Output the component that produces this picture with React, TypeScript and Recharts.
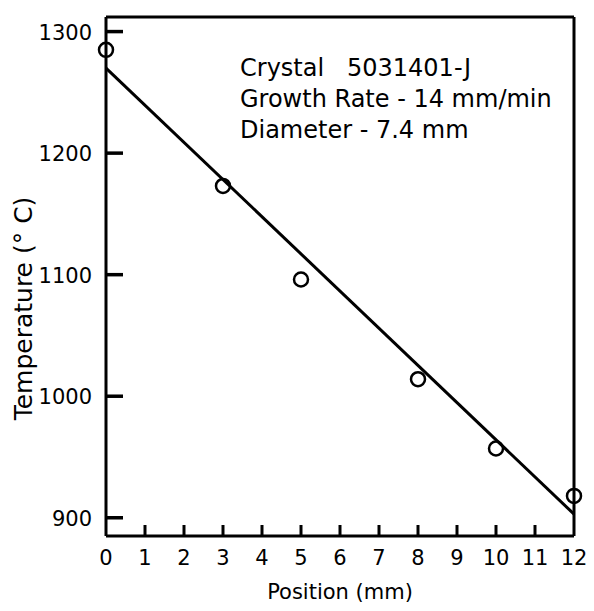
import { ScatterChart, Scatter, XAxis, YAxis } from "recharts";

// measured points (position mm, temperature °C)
const positions = [0, 3, 5, 8, 10, 12];
const temps = [1285, 1173, 1096, 1014, 957, 918];

// straight fit line end points
const fitPositions = [0, 12];
const fitTemps = [1270, 903];

const xTicks = [0, 1, 2, 3, 4, 5, 6, 7, 8, 9, 10, 11, 12];
const yTicks = [900, 1000, 1100, 1200, 1300];
const notes = ["Crystal   5031401-J", "Growth Rate - 14 mm/min", "Diameter - 7.4 mm"];

const points = positions.map((p, i) => ({ pos: p, temp: temps[i] }));
const fit = fitPositions.map((p, i) => ({ pos: p, temp: fitTemps[i] }));

const FONT = "DejaVu Sans";
const INK = "#000";

const BottomTick = ({ x, y, payload }: any) => {
  const edge = payload.value === 0 || payload.value === 12;
  return (
    <g>
      {!edge && <line x1={x} x2={x} y1={y} y2={y - 11} stroke={INK} strokeWidth={3} />}
      <text x={x} y={y + 29} textAnchor="middle" fontSize={21} fontFamily={FONT} fill={INK}>
        {payload.value}
      </text>
    </g>
  );
};

const TopTick = ({ x, y, payload }: any) => {
  if (payload.value === 0 || payload.value === 12) return <g />;
  return <line x1={x} x2={x} y1={y} y2={y + 12} stroke={INK} strokeWidth={3} />;
};

const LeftTick = ({ x, y, payload }: any) => (
  <g>
    <line x1={x} x2={x + 17} y1={y} y2={y} stroke={INK} strokeWidth={3.5} />
    <text x={x - 14} y={y + 8} textAnchor="end" fontSize={21} fontFamily={FONT} fill={INK}>
      {payload.value}
    </text>
  </g>
);

const RightTick = ({ x, y }: any) => (
  <line x1={x} x2={x - 18} y1={y} y2={y} stroke={INK} strokeWidth={3.5} />
);

const Dot = ({ cx, cy }: any) => (
  <circle cx={cx} cy={cy} r={7} fill="none" stroke={INK} strokeWidth={2.5} />
);

const NoDot = () => <g />;

const axisLine = { stroke: INK, strokeWidth: 3 };

export default function App() {
  return (
    <div style={{ position: "absolute", left: 0, top: 0, background: "#fff" }}>
      <ScatterChart width={594} height={611} margin={{ top: 0, right: 0, bottom: 0, left: 0 }}>
        <XAxis
          xAxisId="b"
          type="number"
          dataKey="pos"
          orientation="bottom"
          domain={[0, 12]}
          ticks={xTicks}
          interval={0}
          height={75}
          tickSize={0}
          tickMargin={0}
          tickLine={false}
          axisLine={axisLine}
          tick={<BottomTick />}
          label={{
            value: "Position (mm)",
            position: "insideBottom",
            offset: 12,
            fontSize: 21,
            fontFamily: FONT,
            fill: INK,
          }}
        />
        <XAxis
          xAxisId="t"
          type="number"
          dataKey="pos"
          orientation="top"
          domain={[0, 12]}
          ticks={xTicks}
          interval={0}
          height={17}
          tickSize={0}
          tickMargin={0}
          tickLine={false}
          axisLine={axisLine}
          tick={<TopTick />}
        />
        <YAxis
          yAxisId="l"
          type="number"
          dataKey="temp"
          orientation="left"
          domain={[885, 1312]}
          ticks={yTicks}
          interval={0}
          width={106}
          tickSize={0}
          tickMargin={0}
          tickLine={false}
          axisLine={axisLine}
          tick={<LeftTick />}
          label={({ viewBox }: any) => (
            <text
              transform={`translate(${viewBox.x + 32}, ${viewBox.y + viewBox.height / 2 + 32}) rotate(-90)`}
              textAnchor="middle"
              fontSize={25}
              fontFamily={FONT}
              fill={INK}
            >
              Temperature (° C)
            </text>
          )}
        />
        <YAxis
          yAxisId="r"
          type="number"
          dataKey="temp"
          orientation="right"
          domain={[885, 1312]}
          ticks={yTicks}
          interval={0}
          width={20}
          tickSize={0}
          tickMargin={0}
          tickLine={false}
          axisLine={axisLine}
          tick={<RightTick />}
        />
        <Scatter
          xAxisId="b"
          yAxisId="l"
          data={fit}
          line={{ stroke: INK, strokeWidth: 3 }}
          lineType="joint"
          shape={<NoDot />}
          isAnimationActive={false}
        />
        <Scatter
          xAxisId="b"
          yAxisId="l"
          data={points}
          shape={<Dot />}
          isAnimationActive={false}
        />
        {notes.map((t, i) => (
          <text
            key={t}
            x={240}
            y={76 + i * 31}
            fontSize={24}
            fontFamily={FONT}
            fill={INK}
            style={{ whiteSpace: "pre" }}
          >
            {t}
          </text>
        ))}
      </ScatterChart>
    </div>
  );
}
